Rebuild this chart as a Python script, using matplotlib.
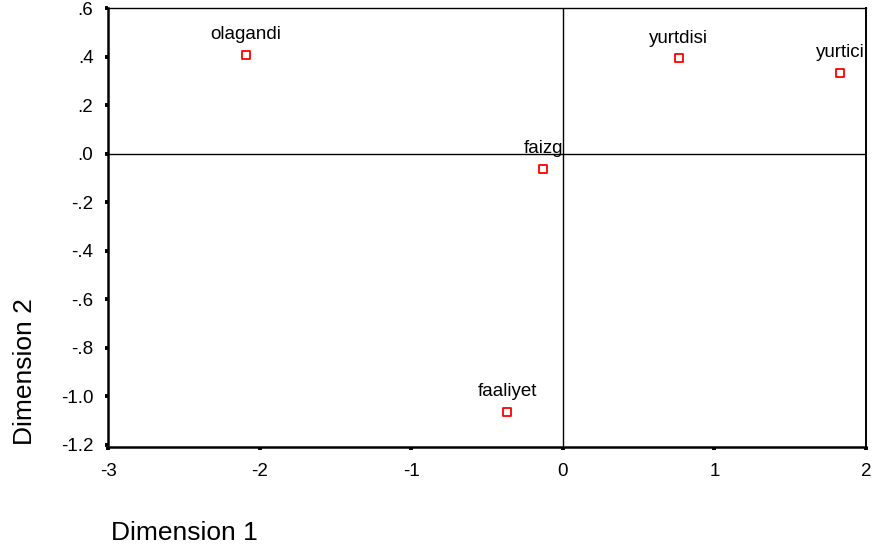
import matplotlib
matplotlib.use("Agg")
import matplotlib.pyplot as plt
from matplotlib.ticker import FixedLocator, FixedFormatter

# Category quantifications on the first two dimensions
labels = ["olagandi", "yurtdisi", "yurtici", "faizg", "faaliyet"]
dim1 = [-2.09, 0.765, 1.83, -0.13, -0.367]
dim2 = [0.41, 0.395, 0.334, -0.062, -1.065]

xticks = [-3, -2, -1, 0, 1, 2]
xticklabels = ["-3", "-2", "-1", "0", "1", "2"]
yticks = [0.6, 0.4, 0.2, 0.0, -0.2, -0.4, -0.6, -0.8, -1.0, -1.2]
yticklabels = [".6", ".4", ".2", ".0", "-.2", "-.4", "-.6", "-.8", "-1.0", "-1.2"]

plt.rcParams["font.family"] = ["Liberation Sans", "DejaVu Sans"]

fig = plt.figure(figsize=(8.72, 5.51), dpi=100)
ax = fig.add_axes([0.1239, 0.1887, 0.8692, 0.7959])

ax.set_xlim(-3, 2)
ax.set_ylim(-1.21, 0.6)

ax.axhline(0, color="black", lw=1.0, zorder=1)
ax.axvline(0, color="black", lw=1.0, zorder=1)

ax.scatter(dim1, dim2, marker="s", s=30, facecolors="white",
           edgecolors="red", linewidths=1.3, zorder=3)
for name, x, y in zip(labels, dim1, dim2):
    ax.annotate(name, (x, y), xytext=(0, 14.5), textcoords="offset points",
                ha="center", va="center", fontsize=13.5, zorder=4)

ax.xaxis.set_major_locator(FixedLocator(xticks))
ax.xaxis.set_major_formatter(FixedFormatter(xticklabels))
ax.yaxis.set_major_locator(FixedLocator(yticks))
ax.yaxis.set_major_formatter(FixedFormatter(yticklabels))
ax.tick_params(direction="out", length=2.5, width=2.8, labelsize=13.5)
ax.tick_params(axis="y", pad=8)
ax.tick_params(axis="x", pad=9)

ax.spines["left"].set_linewidth(1.8)
ax.spines["bottom"].set_linewidth(1.8)
ax.spines["top"].set_linewidth(1.0)
ax.spines["right"].set_linewidth(1.4)

fig.text(0.212, 0.02, "Dimension 1", ha="center", va="baseline", fontsize=19)
fig.text(0.029, 0.325, "Dimension 2", ha="center", va="center",
         rotation=90, fontsize=19)

fig.savefig("out.png", dpi=100)
